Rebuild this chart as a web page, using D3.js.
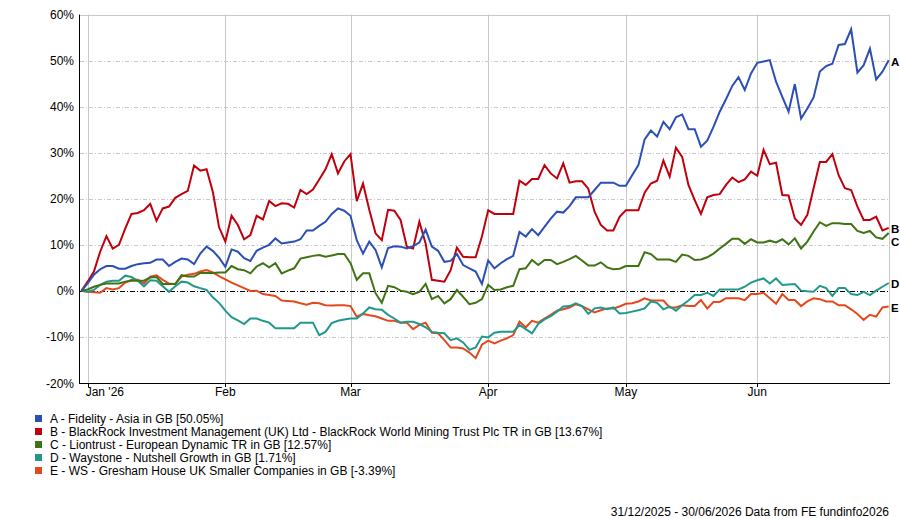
<!DOCTYPE html>
<html><head><meta charset="utf-8">
<script src="https://cdn.jsdelivr.net/npm/d3@7"></script>
<style>body{margin:0;background:#fff}svg{display:block}text{font-family:"Liberation Sans",Arial,sans-serif}</style>
</head><body><svg id="c" width="900" height="518"></svg>
<script>
// trading-day series, 31/12/2025 .. 30/06/2026 (130 weekdays), cumulative % growth
const seriesNames = [
  "A - Fidelity - Asia in GB [50.05%]",
  "B - BlackRock Investment Management (UK) Ltd - BlackRock World Mining Trust Plc TR in GB [13.67%]",
  "C - Liontrust - European Dynamic TR in GB [12.57%]",
  "D - Waystone - Nutshell Growth in GB [1.71%]",
  "E - WS - Gresham House UK Smaller Companies in GB [-3.39%]"
];
const seriesKeys = ["A","B","C","D","E"];
const seriesColors = ["#2b4fb3","#c0000c","#3f7314","#21998a","#e5481c"];
const monthLabels = ["Jan '26","Feb","Mar","Apr","May","Jun"];
const yTicks = [-20,-10,0,10,20,30,40,50,60];

const valuesA = [0,1.6,3.5,4.7,5.4,5.4,4.8,4.8,5.4,5.8,6.0,6.1,6.8,6.8,5.4,6.3,7.0,6.8,5.8,8.1,9.6,8.7,7.2,5.2,9.0,8.5,7.1,6.5,8.7,9.4,10.0,11.4,10.3,10.5,10.7,11.2,13.1,13.1,14.1,15.0,16.7,17.9,17.4,16.3,11.0,8.1,10.7,8.9,5.1,9.3,9.7,9.6,9.2,9.7,10.5,13.3,9.6,8.7,6.3,6.5,8.0,5.6,4.9,4.2,1.5,6.6,4.9,6.0,6.9,7.6,12.8,11.8,13.4,12.1,13.9,15.7,17.2,17.0,18.4,20.3,20.3,20.3,21.9,23.5,23.5,23.5,22.8,22.8,25.1,27.3,32.9,34.8,33.5,36.7,35.1,37.7,38.3,35.1,35.1,31.3,32.6,35.6,38.9,41.6,44.5,46.4,43.6,47.2,49.5,49.8,50.1,45.4,42.1,38.9,44.9,37.4,39.6,42.0,47.6,48.8,49.3,53.4,53.6,56.8,47.4,49.0,52.6,45.9,47.6,50.05];
const valuesB = [0,2.0,4.2,8.5,11.9,9.2,10.0,13.5,16.7,16.9,17.5,18.9,15.2,17.9,18.3,20.2,21.0,21.7,27.2,26.1,26.4,21.5,13.8,10.7,16.3,14.3,11.2,12.1,16.3,15.5,19.5,18.4,19.0,18.9,18.1,21.9,21.0,22.0,24.2,26.4,29.7,25.5,28.1,29.7,19.5,23.3,17.6,12.5,11.0,17.6,17.4,15.4,9.6,9.2,15.0,10.3,2.4,2.2,2.0,4.5,9.4,7.4,7.3,7.3,11.8,17.5,16.7,16.7,16.7,16.7,23.9,23.0,24.3,24.3,27.3,25.5,24.4,27.7,23.5,23.8,23.8,22.2,17.2,14.3,13.1,13.1,16.1,17.5,17.5,17.5,21.3,23.3,23.9,28.3,24.8,31.1,29.1,23.0,19.7,16.7,20.3,20.8,21.0,23.0,24.6,23.6,24.2,25.9,25.0,30.6,27.5,27.8,20.8,20.7,15.7,14.3,16.5,22.3,28.0,28.0,29.7,25.1,22.3,21.9,18.3,15.4,15.4,16.1,13.1,13.67];
const valuesC = [0,0.3,0.9,1.3,1.6,1.6,1.6,2.0,2.2,2.2,2.2,2.9,3.0,1.5,1.5,1.5,3.4,3.1,3.1,3.9,3.9,3.9,4.0,4.0,5.4,4.7,4.5,3.8,5.3,6.0,5.1,6.0,3.8,4.4,4.9,7.0,7.3,7.6,7.8,7.4,7.7,8.0,8.0,6.0,2.4,3.8,3.8,-0.5,-2.6,1.1,0.8,0.05,-0.2,-0.7,-0.2,1.5,-1.8,-1.1,-2.7,-1.8,0.2,-1.3,-2.9,-2.6,-1.8,1.3,0.2,0.3,0.8,1.1,4.7,4.9,6.7,5.6,6.7,6.7,5.8,6.3,6.9,7.6,6.6,5.5,5.5,6.2,5.1,4.7,4.8,5.4,5.4,5.4,8.4,8.0,6.8,6.8,6.8,6.3,7.9,7.6,6.7,6.8,7.3,8.1,9.2,10.2,11.3,11.3,10.2,11.2,10.5,10.5,10.9,10.5,11.2,10.1,11.4,9.2,10.7,12.9,14.9,14.1,14.7,14.7,14.5,14.5,13.0,12.6,13.0,11.6,11.3,12.57];
const valuesD = [0,-0.2,0.2,1.3,2.0,2.2,2.2,3.3,3.0,2.2,1.0,2.3,2.2,1.0,-0.2,1.0,2.0,1.8,1.0,0.6,0.2,-1.4,-2.6,-4.3,-5.7,-6.4,-7.2,-6.0,-6.0,-6.5,-6.9,-8.1,-8.1,-8.1,-8.1,-6.9,-6.9,-6.9,-9.6,-8.9,-7.0,-6.5,-6.2,-6.0,-6.0,-4.9,-3.6,-4.0,-4.1,-5.2,-6.0,-6.9,-6.7,-6.7,-7.2,-7.9,-8.9,-9.1,-9.2,-10.7,-10.3,-11.2,-12.8,-12.3,-9.9,-10.1,-9.1,-8.9,-8.9,-8.9,-7.4,-8.3,-9.2,-7.2,-6.2,-5.5,-4.5,-3.4,-3.3,-2.7,-3.3,-5.0,-3.8,-3.6,-4.0,-3.6,-4.9,-4.8,-4.5,-4.2,-3.8,-2.3,-2.6,-4.0,-3.4,-4.3,-3.1,-2.1,-0.9,-0.9,-0.4,-1.1,0.3,0.3,0.3,0.3,0.9,1.8,2.3,2.7,1.6,2.7,1.3,1.4,1.5,0.05,-0.1,-0.2,1.1,0.6,-1.1,0.6,0.6,-0.7,-0.9,-0.2,-0.9,0.05,0.9,1.71];
const valuesE = [0,-0.2,-0.3,-0.4,0.6,0.3,0.6,1.8,2.4,2.4,1.6,3.1,3.4,2.4,1.6,1.5,3.1,3.5,3.7,4.2,4.5,4.0,3.2,2.5,1.8,1.2,0.6,0.0,0.05,-0.7,-0.9,-1.1,-2.1,-2.2,-2.3,-2.7,-3.0,-2.6,-2.7,-3.1,-3.2,-3.1,-3.1,-3.3,-5.6,-5.0,-5.3,-5.5,-6.0,-6.5,-6.5,-6.9,-6.9,-8.3,-7.4,-6.9,-9.1,-9.2,-10.7,-12.3,-12.3,-12.5,-13.4,-14.6,-11.7,-10.8,-11.4,-10.8,-10.3,-9.6,-6.7,-7.9,-6.5,-6.9,-6.0,-5.2,-4.3,-4.0,-3.6,-2.9,-3.3,-4.0,-4.7,-4.2,-3.8,-3.8,-3.4,-2.8,-2.7,-2.3,-1.6,-2.1,-2.1,-2.1,-3.6,-3.6,-3.1,-3.3,-3.3,-2.0,-3.8,-2.4,-2.4,-1.6,-1.6,-1.6,-2.0,-0.7,-0.7,-0.4,-1.6,-2.8,-0.7,-2.0,-2.0,-3.3,-2.3,-1.6,-1.8,-2.3,-2.3,-3.1,-3.1,-4.0,-5.0,-6.3,-5.2,-5.6,-3.6,-3.39];
const footerText = "31/12/2025 - 30/06/2026 Data from FE fundinfo2026";

const allValues = [valuesA,valuesB,valuesC,valuesD,valuesE];

// trading-day calendar
const days = d3.timeDay.range(new Date(2025,11,31), new Date(2026,6,1)).filter(d => d.getDay()!==0 && d.getDay()!==6);
// first trading day of each month (month gridlines)
const monthIdx = [];
days.forEach((d,i) => { if (i>0 && (i===1 || d.getMonth()!==days[i-1].getMonth())) monthIdx.push(i); });

const svg = d3.select("#c");
const L = 80, R = 889, T = 14.5, B = 383;
const x = d3.scaleLinear().domain([0, days.length-1]).range([81.4, 888.7]);
const y = d3.scaleLinear().domain([-20, 60]).range([B, T]);

const g = svg.append("g");
// horizontal grid
g.selectAll("line.hg").data(yTicks.filter(t => t!==0 && t!==-20 && t!==60)).enter().append("line")
  .attr("x1", L).attr("x2", R).attr("y1", d => Math.round(y(d))+0.5).attr("y2", d => Math.round(y(d))+0.5)
  .attr("stroke", "#c8c8c8").attr("stroke-dasharray", "4,2,1,2");
// vertical grid
g.selectAll("line.vg").data(monthIdx).enter().append("line")
  .attr("x1", d => Math.round(x(d))+0.5).attr("x2", d => Math.round(x(d))+0.5).attr("y1", T).attr("y2", B)
  .attr("stroke", "#c8c8c8");
// border top/right
g.append("line").attr("x1", L).attr("x2", R+0.5).attr("y1", Math.round(T)+0.5).attr("y2", Math.round(T)+0.5).attr("stroke", "#c8c8c8");
g.append("line").attr("x1", R+0.5).attr("x2", R+0.5).attr("y1", T).attr("y2", B).attr("stroke", "#c8c8c8");
// zero line
g.append("line").attr("x1", L).attr("x2", R).attr("y1", Math.round(y(0))+0.5).attr("y2", Math.round(y(0))+0.5)
  .attr("stroke", "#000").attr("stroke-dasharray", "5,2,1,2");

// lines
const line = d3.line().x((d,i) => x(i)).y(d => y(d));
for (let k = allValues.length-1; k >= 0; k--) {
  svg.append("path").datum(allValues[k]).attr("d", line).attr("fill", "none")
    .attr("stroke", seriesColors[k]).attr("stroke-width", 2).attr("stroke-linejoin", "miter");
}

// axes
svg.append("line").attr("x1", 79.5).attr("x2", 79.5).attr("y1", T).attr("y2", B+0.5).attr("stroke", "#000");
svg.append("line").attr("x1", 79).attr("x2", R+1).attr("y1", B+0.5).attr("y2", B+0.5).attr("stroke", "#000");
svg.selectAll("line.xt").data(monthIdx).enter().append("line")
  .attr("x1", d => Math.round(x(d))+0.5).attr("x2", d => Math.round(x(d))+0.5).attr("y1", B).attr("y2", B+4).attr("stroke", "#000");

svg.selectAll("text.yl").data(yTicks).enter().append("text")
  .attr("x", 74).attr("y", d => y(d)+4.5).attr("text-anchor", "end").attr("font-size", 12).attr("fill", "#000")
  .text(d => d + "%");
svg.selectAll("text.xl").data(monthIdx).enter().append("text")
  .attr("x", (d,i) => i===0 ? x(d)-2 : x(d)).attr("y", 396).attr("text-anchor", (d,i) => i===0 ? "start" : "middle")
  .attr("font-size", 12).attr("fill", "#000").text((d,i) => monthLabels[i]);

// end labels with simple collision avoidance
const ends = allValues.map((d,k) => ({k, y: y(d[d.length-1]) + 1}));
const sorted = ends.slice().sort((a,b) => a.y - b.y);
for (let i = 1; i < sorted.length; i++) {
  if (sorted[i].y - sorted[i-1].y < 13) sorted[i].y = sorted[i-1].y + 13;
}
svg.selectAll("text.el").data(ends).enter().append("text")
  .attr("x", 891).attr("y", d => d.y + 4.5)
  .attr("font-size", 11.5).attr("font-weight", "bold").attr("fill", "#000").text(d => seriesKeys[d.k]);

// legend
const lg = svg.append("g");
seriesNames.forEach((n,k) => {
  const yy = 419 + k*13;
  lg.append("rect").attr("x", 35).attr("y", yy-4).attr("width", 7).attr("height", 7).attr("fill", seriesColors[k]);
  lg.append("text").attr("x", 50).attr("y", yy+4).attr("font-size", 12).attr("fill", "#000").text(n);
});
svg.append("text").attr("x", 889).attr("y", 516).attr("text-anchor", "end").attr("font-size", 12).attr("fill", "#000").text(footerText);
</script></body></html>
